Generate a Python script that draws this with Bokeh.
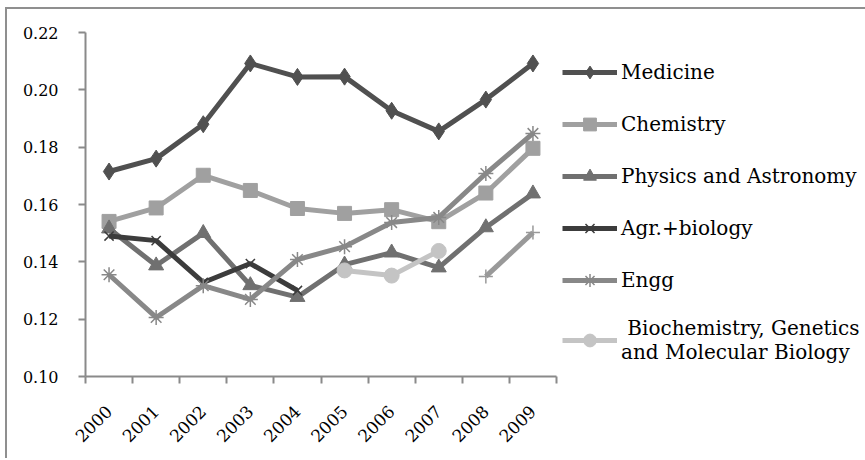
import math
from bokeh.plotting import figure
from bokeh.models import FixedTicker, Legend, LegendItem, PrintfTickFormatter, Range1d
from bokeh.embed import file_html
from bokeh.resources import INLINE

years = [2000, 2001, 2002, 2003, 2004, 2005, 2006, 2007, 2008, 2009]
y_ticks = [0.10, 0.12, 0.14, 0.16, 0.18, 0.20, 0.22]

medicine = [0.1715, 0.1760, 0.1880, 0.2092, 0.2045, 0.2046, 0.1927, 0.1855, 0.1966, 0.2092]
chemistry = [0.1541, 0.1588, 0.1702, 0.1649, 0.1586, 0.1569, 0.1582, 0.1540, 0.1640, 0.1796]
physics = [0.1516, 0.1387, 0.1500, 0.1318, 0.1277, 0.1390, 0.1432, 0.1380, 0.1520, 0.1638]
agr_years = [2000, 2001, 2002, 2003, 2004]
agr = [0.1490, 0.1474, 0.1328, 0.1394, 0.1300]
engg = [0.1355, 0.1206, 0.1317, 0.1269, 0.1408, 0.1453, 0.1537, 0.1555, 0.1708, 0.1848]
bio_years = [2005, 2006, 2007]
bio = [0.1370, 0.1352, 0.1438]
extra_years = [2008, 2009]
extra = [0.1349, 0.1502]

FONT = "DejaVu Serif"
AXIS_COLOR = "#8a8a8a"

p = figure(frame_width=471, frame_height=344, x_range=Range1d(1999.5, 2009.5), y_range=Range1d(0.10, 0.22),
           output_backend="svg", toolbar_location=None,
           min_border_left=78, min_border_right=6, min_border_top=23, min_border_bottom=82)
p.styles = {"border-left": "2px solid #8f8f8f", "border-top": "2px solid #8f8f8f",
            "margin-left": "5px", "margin-top": "7px"}
p.outline_line_color = None
p.xgrid.visible = False
p.ygrid.visible = False

# x axis
p.xaxis.ticker = FixedTicker(ticks=years, minor_ticks=[1999.5 + i for i in range(11)])
p.xaxis.major_tick_line_color = None
p.xaxis.minor_tick_line_color = AXIS_COLOR
p.xaxis.minor_tick_line_width = 2
p.xaxis.minor_tick_out = 7
p.xaxis.minor_tick_in = 0
p.xaxis.axis_line_color = AXIS_COLOR
p.xaxis.axis_line_width = 2
p.xaxis.major_label_orientation = math.pi / 4
p.xaxis.major_label_text_font = FONT
p.xaxis.major_label_text_font_size = "17px"
p.xaxis.major_label_text_color = "black"
p.xaxis.major_label_standoff = 25

# y axis
p.yaxis.ticker = FixedTicker(ticks=y_ticks, minor_ticks=[])
p.yaxis.formatter = PrintfTickFormatter(format="%.2f")
p.yaxis.major_tick_line_color = AXIS_COLOR
p.yaxis.major_tick_line_width = 2
p.yaxis.major_tick_out = 7
p.yaxis.major_tick_in = 0
p.yaxis.axis_line_color = AXIS_COLOR
p.yaxis.axis_line_width = 2
p.yaxis.major_label_text_font = FONT
p.yaxis.major_label_text_font_size = "16px"
p.yaxis.major_label_text_color = "black"
p.yaxis.major_label_standoff = 20

LW = 5

def series(xs, ys, color, marker, size, fill=True):
    r1 = p.line(xs, ys, line_color=color, line_width=LW)
    if fill:
        r2 = p.scatter(xs, ys, marker=marker, size=size, fill_color=color, line_color=color)
    else:
        r2 = p.scatter(xs, ys, marker=marker, size=size, fill_color=None, line_color=color, line_width=1.5)
    return [r1, r2]

r_med = series(years, medicine, "#505050", "diamond", 17)
r_chem = series(years, chemistry, "#a0a0a0", "square", 14)
r_phys = series(years, physics, "#707070", "triangle", 15)
r_agr = series(agr_years, agr, "#3c3c3c", "x", 13, fill=False)
r_engg = series(years, engg, "#888888", "asterisk", 15, fill=False)
r_bio = series(bio_years, bio, "#c4c4c4", "circle", 15)
r_extra = series(extra_years, extra, "#999999", "cross", 14, fill=False)

legend = Legend(items=[
    LegendItem(label="Medicine", renderers=r_med),
    LegendItem(label="Chemistry", renderers=r_chem),
    LegendItem(label="Physics and Astronomy", renderers=r_phys),
    LegendItem(label="Agr.+biology", renderers=r_agr),
    LegendItem(label="Engg", renderers=r_engg),
    LegendItem(label=" Biochemistry, Genetics\nand Molecular Biology", renderers=r_bio),
], location=(6, 12))
legend.glyph_width = 55
legend.glyph_height = 32
legend.label_height = 20
legend.spacing = 20
legend.padding = 0
legend.margin = 0
legend.label_standoff = 4
legend.border_line_color = None
legend.background_fill_alpha = 0
legend.label_text_font = FONT
legend.label_text_font_size = "20px"
legend.label_text_color = "black"
p.add_layout(legend, "right")

open("out.html", "w").write(file_html(p, INLINE))
